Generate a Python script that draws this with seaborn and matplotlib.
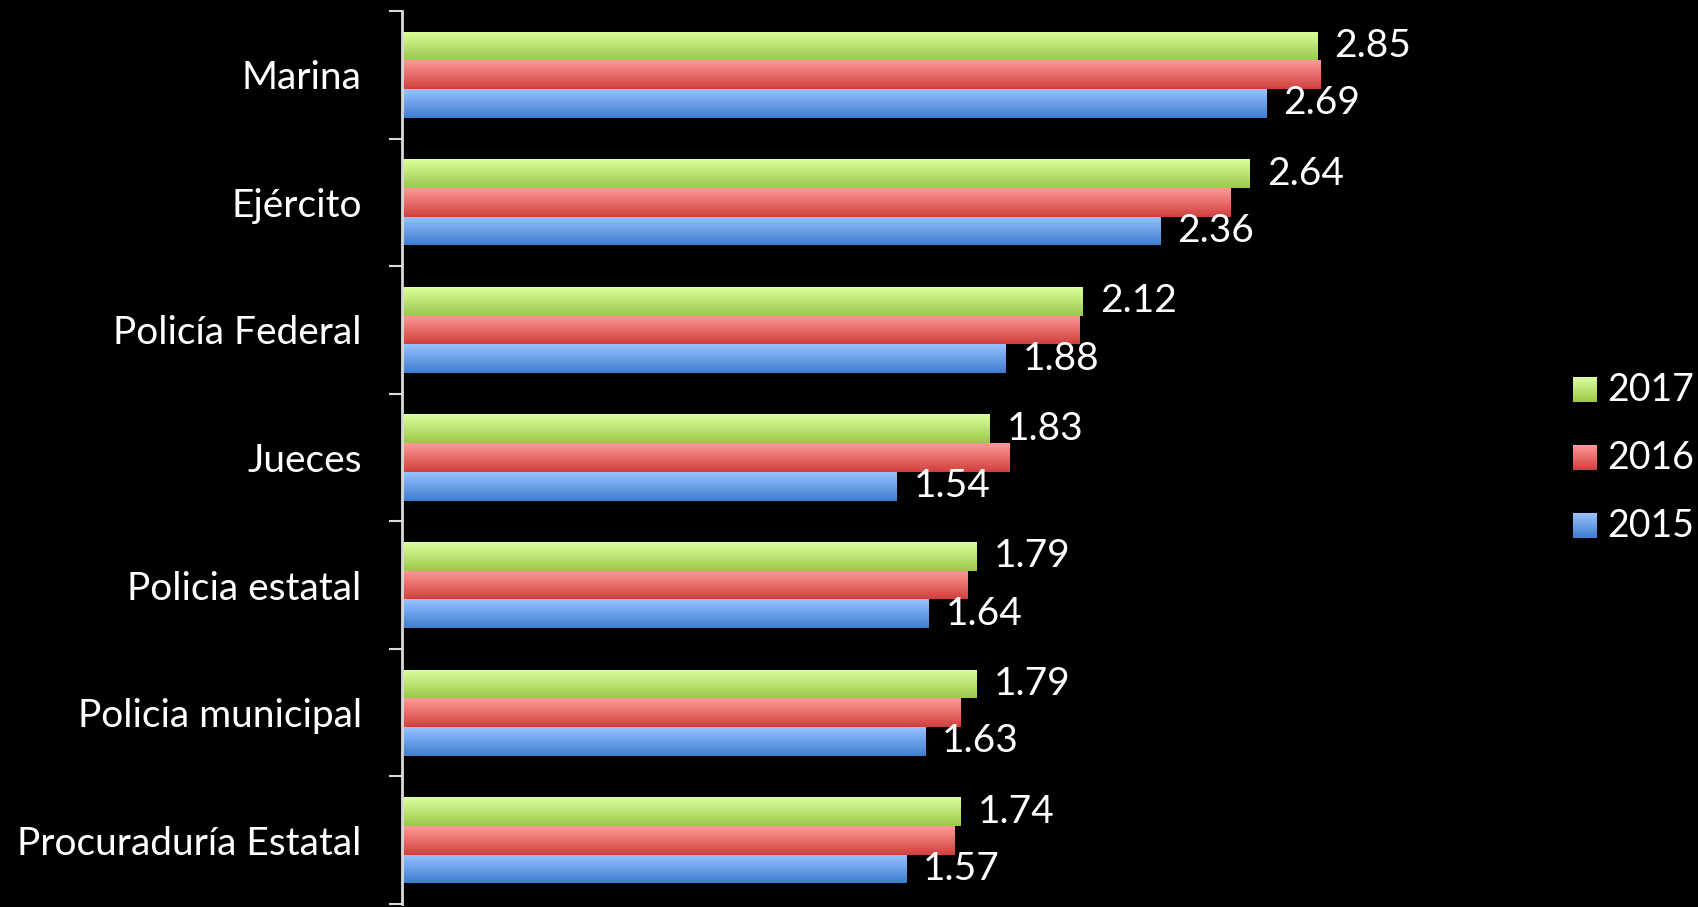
import numpy as np
import pandas as pd
import matplotlib
matplotlib.use("Agg")
import matplotlib.pyplot as plt
import seaborn as sns
from matplotlib.colors import LinearSegmentedColormap
from matplotlib.image import BboxImage
from matplotlib.legend_handler import HandlerBase
from matplotlib.patches import Patch
from matplotlib.transforms import Bbox, TransformedBbox

# datos
instituciones = ["Marina", "Ejército", "Policía Federal", "Jueces",
                 "Policia estatal", "Policia municipal", "Procuraduría Estatal"]
anios = ["2017", "2016", "2015"]
v2017 = [2.85, 2.64, 2.12, 1.83, 1.79, 1.79, 1.74]
v2016 = [2.86, 2.58, 2.11, 1.89, 1.76, 1.74, 1.72]
v2015 = [2.69, 2.36, 1.88, 1.54, 1.64, 1.63, 1.57]
etiquetas = {"2017": True, "2016": False, "2015": True}

# degradados (arriba claro -> abajo oscuro)
degradados = {
    "2017": ("#DCFF9E", "#9CC84B"),
    "2016": ("#FF9A99", "#D0403D"),
    "2015": ("#99C2FF", "#3E7ECF"),
}

df = pd.DataFrame({
    "institucion": instituciones * 3,
    "anio": ["2017"] * 7 + ["2016"] * 7 + ["2015"] * 7,
    "valor": v2017 + v2016 + v2015,
})

sns.set_style("dark")
plt.rcParams["font.family"] = ["Lato", "DejaVu Sans"]

fig = plt.figure(figsize=(16.98, 9.07), dpi=100, facecolor="black")
ax = fig.add_axes([402 / 1698, 3 / 907, 1060 / 1698, 893 / 907])
ax.set_facecolor("black")

paleta = {a: degradados[a][1] for a in anios}
sns.barplot(data=df, y="institucion", x="valor", hue="anio", hue_order=anios,
            order=instituciones, orient="h", palette=paleta, width=0.675,
            ax=ax, legend=False, saturation=1)

xmax = 3.3
grad = np.linspace(0, 1, 64).reshape(-1, 1)
for anio, cont in zip(anios, ax.containers):
    cmap = LinearSegmentedColormap.from_list(anio, degradados[anio])
    for barra in cont:
        x0, y0 = barra.get_x(), barra.get_y()
        w, h = barra.get_width(), barra.get_height()
        im = ax.imshow(grad, cmap=cmap, aspect="auto", origin="upper",
                       extent=(x0, x0 + w, y0 + h, y0), zorder=2,
                       interpolation="bilinear")
        im.set_clip_path(barra)
        barra.set_facecolor("none")
        barra.set_edgecolor("none")
    if etiquetas[anio]:
        ax.bar_label(cont, fmt="%.2f", padding=12, color="white", fontsize=28)

ax.set_xlim(0, xmax)
ax.set_ylim(6.5, -0.5)

# ejes
ax.set_xlabel("")
ax.set_ylabel("")
ax.set_xticks([])
ax.grid(False)
for lado in ["top", "right", "bottom"]:
    ax.spines[lado].set_visible(False)
ax.spines["left"].set_color("#D9D9D9")
ax.spines["left"].set_linewidth(2)
ax.tick_params(axis="y", which="major", length=0, pad=29, labelsize=28,
               labelcolor="white")
ax.set_yticks(np.arange(-0.5, 7.0, 1.0), minor=True)
ax.tick_params(axis="y", which="minor", left=True, length=9.5, width=1.5,
               color="#D9D9D9", direction="out")


class HandlerDegradado(HandlerBase):
    def create_artists(self, legend, orig_handle, xdescent, ydescent,
                       width, height, fontsize, trans):
        cols = degradados[orig_handle.get_label()]
        cmap = LinearSegmentedColormap.from_list("g", cols)
        bb = Bbox.from_bounds(xdescent, ydescent, width, height)
        img = BboxImage(TransformedBbox(bb, trans), cmap=cmap,
                        interpolation="bilinear")
        img.set_data(grad)
        return [img]


handles = [Patch(label=a) for a in anios]
leg = fig.legend(handles=handles, labels=anios, loc="center left",
                 bbox_to_anchor=(1573 / 1698, 1 - 458 / 907),
                 frameon=False, fontsize=27, labelcolor="white",
                 handlelength=0.62, handleheight=0.62, handletextpad=0.3,
                 labelspacing=0.85, borderpad=0, borderaxespad=0,
                 handler_map={Patch: HandlerDegradado()})

fig.savefig("out.png", dpi=100, facecolor="black")
